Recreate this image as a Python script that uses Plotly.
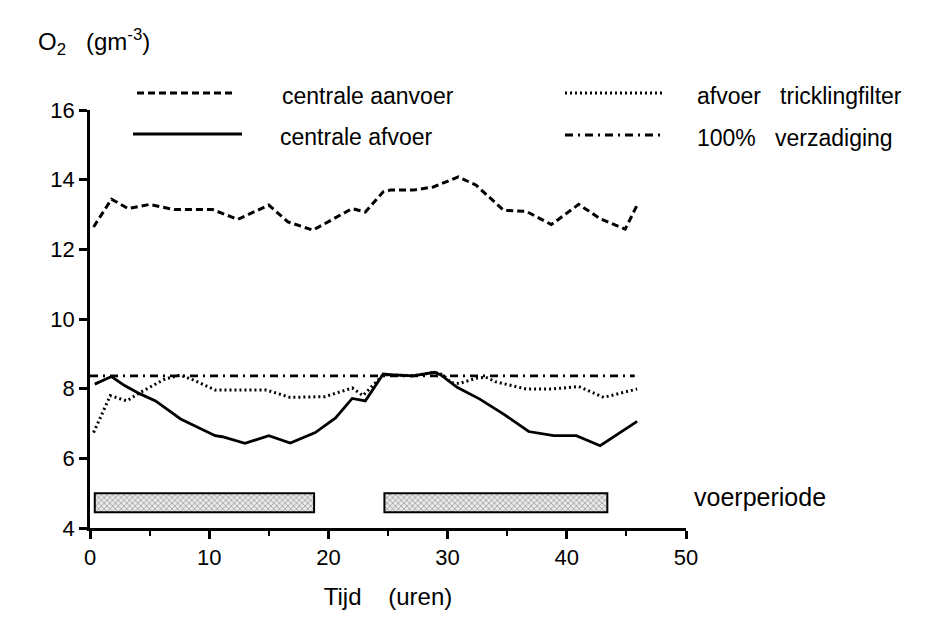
import plotly.graph_objects as go

# ---- data ----
t_aanvoer = [0.3, 1.8, 3.2, 5.0, 7.1, 10.3, 12.4, 15.0, 16.6, 18.7, 22.0, 23.1, 24.6,
             25.2, 27.1, 28.8, 30.9, 32.4, 34.7, 36.6, 38.7, 41.0, 42.8, 44.9, 45.9]
v_aanvoer = [12.64, 13.44, 13.17, 13.29, 13.14, 13.14, 12.86, 13.27, 12.79, 12.55, 13.17, 13.07, 13.65,
             13.70, 13.70, 13.79, 14.08, 13.84, 13.12, 13.09, 12.71, 13.29, 12.88, 12.58, 13.27]

t_afvoer = [0.4, 1.8, 2.9, 4.2, 5.5, 7.6, 10.5, 11.1, 13.0, 15.0, 16.8, 18.9, 20.6, 22.0,
            23.1, 24.6, 25.2, 27.1, 28.9, 29.4, 30.8, 32.7, 34.7, 36.8, 38.9, 40.8, 42.8, 45.9]
v_afvoer = [8.13, 8.35, 8.09, 7.85, 7.65, 7.13, 6.65, 6.62, 6.43, 6.65, 6.44, 6.74, 7.16, 7.72,
            7.65, 8.42, 8.40, 8.37, 8.47, 8.40, 8.04, 7.70, 7.27, 6.77, 6.65, 6.65, 6.36, 7.06]

t_trickling = [0.3, 1.7, 3.1, 4.2, 6.3, 7.6, 8.8, 10.5, 14.8, 16.8, 19.7, 22.0, 22.9, 24.6,
               27.1, 28.9, 29.6, 30.3, 31.0, 32.4, 33.2, 34.0, 36.6, 38.7, 41.0, 43.1, 45.9]
v_trickling = [6.74, 7.80, 7.65, 7.89, 8.28, 8.39, 8.23, 7.96, 7.96, 7.75, 7.77, 8.02, 7.80, 8.40,
               8.37, 8.47, 8.40, 8.17, 8.15, 8.30, 8.33, 8.20, 7.99, 7.99, 8.06, 7.75, 7.99]

t_verzadiging = [0.0, 45.7]
v_verzadiging = [8.37, 8.37]

feed_start = [0.4, 24.7]
feed_end = [18.8, 43.4]
feed_low, feed_high = 4.45, 5.0

x_ticks = [0, 10, 20, 30, 40, 50]
y_ticks = [4, 6, 8, 10, 12, 14, 16]

legend_names = ["centrale aanvoer", "centrale afvoer",
                "afvoer\u00a0\u00a0 tricklingfilter", "100%\u00a0\u00a0 verzadiging"]

# ---- layout geometry ----
W, H = 937, 623
L, R, T, B = 90, 251, 110, 95
PW, PH = W - L - R, H - T - B
FONT = "Liberation Sans, Arial, Helvetica, sans-serif"


def px(xp):
    return (xp - L) / PW


def py(yp):
    return (H - B - yp) / PH


DASH = "7px,4px"
DOT = "2px,3px"
DASHDOT = "8px,5px,2px,5px"

fig = go.Figure()

fig.add_trace(go.Bar(
    y=[(feed_low + feed_high) / 2] * len(feed_start),
    x=[e - s for s, e in zip(feed_start, feed_end)],
    base=feed_start, orientation="h", width=feed_high - feed_low,
    marker=dict(color="#e6e6e6", line=dict(color="black", width=2),
                pattern=dict(shape="x", size=4, solidity=0.35, fgcolor="#555555", bgcolor="#e8e8e8")),
    showlegend=False, hoverinfo="skip"))

fig.add_trace(go.Scatter(x=t_verzadiging, y=v_verzadiging, mode="lines",
                         line=dict(color="black", width=2.8, dash=DASHDOT), name=legend_names[3]))
fig.add_trace(go.Scatter(x=t_trickling, y=v_trickling, mode="lines",
                         line=dict(color="black", width=3, dash=DOT), name=legend_names[2]))
fig.add_trace(go.Scatter(x=t_afvoer, y=v_afvoer, mode="lines",
                         line=dict(color="black", width=2.8), name=legend_names[1]))
fig.add_trace(go.Scatter(x=t_aanvoer, y=v_aanvoer, mode="lines",
                         line=dict(color="black", width=3, dash=DASH), name=legend_names[0]))

# ---- manual legend ----
legend_items = [
    (137, 233, 93, DASH, 280, legend_names[0]),
    (133, 242, 134, "solid", 278, legend_names[1]),
    (565, 665, 93, DOT, 695, legend_names[2]),
    (565, 665, 135, DASHDOT, 695, legend_names[3]),
]
shapes = []
annotations = []
for x0, x1, yy, dash, tx, name in legend_items:
    shapes.append(dict(type="line", xref="paper", yref="paper",
                       x0=px(x0), x1=px(x1), y0=py(yy), y1=py(yy),
                       line=dict(color="black", width=2.8, dash=dash)))
    annotations.append(dict(text=name, xref="paper", yref="paper", x=px(tx), y=py(yy + 3),
                            xanchor="left", yanchor="middle", showarrow=False,
                            font=dict(size=23, color="black", family=FONT)))

annotations.append(dict(text="O<sub>2</sub>\u00a0 \u00a0(gm<sup>-3</sup>)", xref="paper", yref="paper",
                        x=px(36), y=py(42), xanchor="left", yanchor="middle", showarrow=False,
                        font=dict(size=24, color="black", family=FONT)))
annotations.append(dict(text="voerperiode", xref="paper", yref="paper",
                        x=px(692), y=py(497), xanchor="left", yanchor="middle", showarrow=False,
                        font=dict(size=25, color="black", family=FONT)))

fig.update_layout(
    width=W, height=H,
    margin=dict(l=L, r=R, t=T, b=B),
    plot_bgcolor="white", paper_bgcolor="white",
    showlegend=False,
    font=dict(family=FONT, size=22, color="black"),
    shapes=shapes, annotations=annotations,
    xaxis=dict(range=[0, 50], tickvals=x_ticks, showgrid=False, zeroline=False,
               showline=True, linecolor="black", linewidth=2.5,
               ticks="outside", ticklen=8, tickwidth=2.5, tickcolor="black",
               minor=dict(dtick=5, ticks="outside", ticklen=5, tickwidth=2, tickcolor="black", showgrid=False),
               tickfont=dict(size=22, family=FONT),
               title=dict(text="Tijd\u00a0\u00a0 \u00a0(uren)", standoff=20, font=dict(size=24, family=FONT))),
    yaxis=dict(range=[4, 16], tickvals=y_ticks, showgrid=False, zeroline=False,
               showline=True, linecolor="black", linewidth=2.5,
               ticks="outside", ticklen=8, tickwidth=2.5, tickcolor="black",
               tickfont=dict(size=22, family=FONT)),
)

fig.write_html("out.html")
